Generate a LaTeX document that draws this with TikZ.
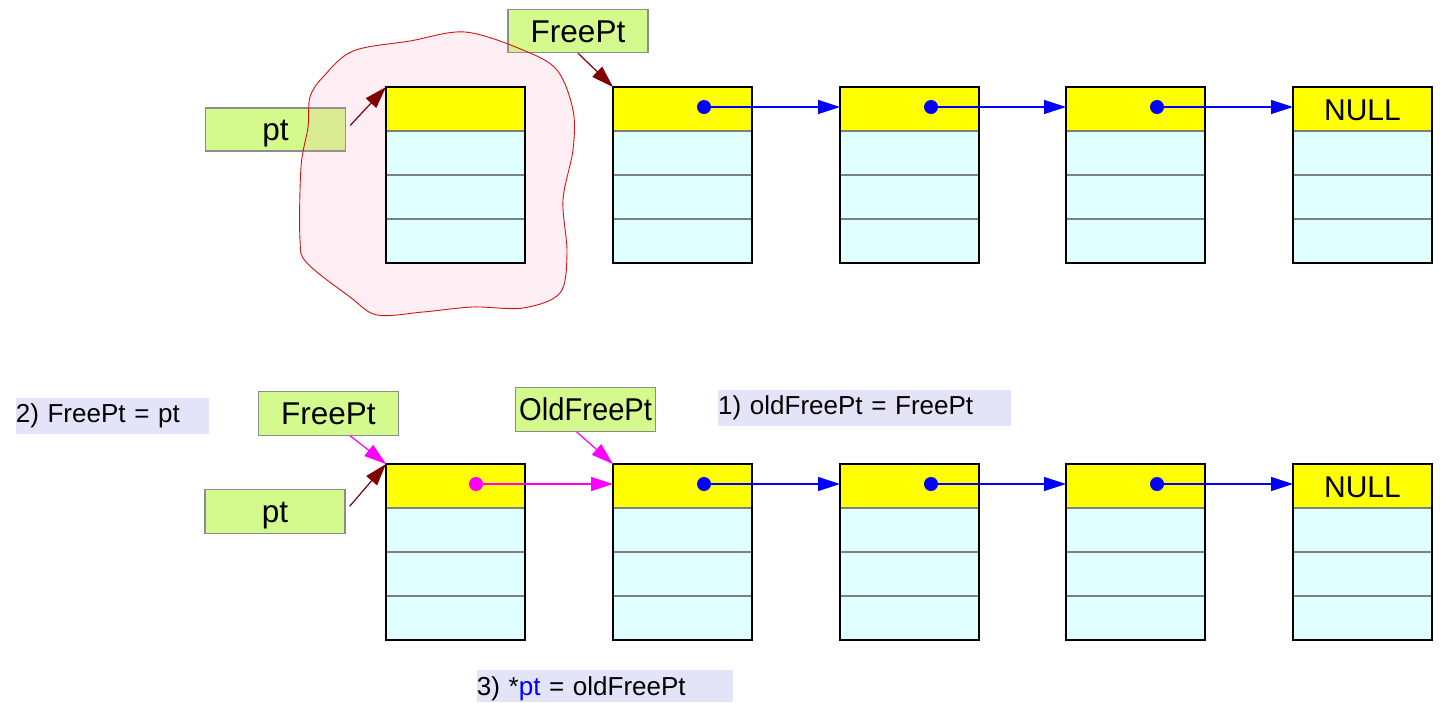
\documentclass[tikz,border=0pt]{standalone}
\usepackage{graphicx}
\usepackage{fontspec}
\setmainfont{Liberation Sans}
\usetikzlibrary{arrows.meta}
\definecolor{lblgreen}{RGB}{212,250,142}
\definecolor{lblborder}{RGB}{140,140,140}
\definecolor{steplav}{RGB}{228,228,248}
\definecolor{cellcyan}{RGB}{224,255,255}
\definecolor{cellyellow}{RGB}{255,255,0}
\definecolor{ptrred}{RGB}{128,0,0}
\definecolor{ptrblue}{RGB}{0,0,255}
\definecolor{ptrmag}{RGB}{255,0,255}
\definecolor{blobred}{RGB}{210,20,20}
\definecolor{blobfill}{RGB}{255,150,180}
\begin{document}
\begin{tikzpicture}[x=1pt,y=-1pt,
  listbox/.style={draw=black, line width=2.6pt, fill=cellcyan, minimum width=139pt,
    minimum height=176pt, inner sep=0pt, outer sep=0pt, anchor=north west,
    path picture={
      \fill[cellyellow] (path picture bounding box.north west) rectangle
        ([yshift=-44pt]path picture bounding box.north east);
      \foreach \yy in {44,88,132}
        \draw[gray, line width=1.1pt] ([yshift=-\yy pt]path picture bounding box.north west)
          -- ([yshift=-\yy pt]path picture bounding box.north east);
    }},
  tagbox/.style={draw=lblborder, line width=1.3pt, fill=lblgreen, minimum width=140pt,
    minimum height=44pt, inner sep=0pt, text height=22.6pt, text depth=0pt,
    font=\fontsize{31.5}{38}\selectfont},
  stepnote/.style={fill=steplav, anchor=north west, inner sep=0pt, align=left,
    text height=19pt, text depth=6pt, font=\fontsize{26}{31}\selectfont},
  dotnode/.style={circle, minimum size=14pt, inner sep=0pt},
  blueptr/.style={draw=ptrblue, line width=1.2pt, -{Triangle[length=22pt,width=14pt]}},
  magptr/.style={draw=ptrmag, line width=1.2pt, -{Triangle[length=22pt,width=14pt]}},
  redptr/.style={draw=ptrred, line width=1.2pt, -{Triangle[length=22pt,width=14pt]}},
  nulltext/.style={font=\fontsize{30}{36}\selectfont, inner sep=0pt}
]
\path[use as bounding box] (0,0) rectangle (1442,702);

% top row pointer labels
\node[tagbox, minimum height=43pt] (ptA) at (275.5,129.5) {pt};
\node[tagbox, minimum height=43pt] (freeA) at (578,31) {FreePt};

% freed block blob
\draw[blobred, line width=0.9pt, fill=blobfill, fill opacity=0.15]
  plot[smooth cycle, tension=0.55] coordinates {
  (353,51) (410,41) (465,32) (523,50) (557,70) (573,110) (573,150) (563,200)
  (567,253) (560,293) (523,308) (473,307) (423,312) (377,315) (350,297)
  (307,263) (300,240) (301,167) (308,127) (310,97) (323,77)};

% top row list boxes
\node[listbox] (T1) at (386,87) {};
\node[listbox] (T2) at (613,87) {};
\node[listbox] (T3) at (840,87) {};
\node[listbox] (T4) at (1066,87) {};
\node[listbox] (T5) at (1293,87) {};
\node[nulltext] (nullT) at ([yshift=-23pt]T5.north) {NULL};

\node[dotnode, fill=ptrblue] (dT2) at ([xshift=91pt,yshift=-20pt]T2.north west) {};
\node[dotnode, fill=ptrblue] (dT3) at ([xshift=91pt,yshift=-20pt]T3.north west) {};
\node[dotnode, fill=ptrblue] (dT4) at ([xshift=91pt,yshift=-20pt]T4.north west) {};
\draw[blueptr] (dT2.center) -- (T3.west |- dT2.center);
\draw[blueptr] (dT3.center) -- (T4.west |- dT3.center);
\draw[blueptr] (dT4.center) -- (T5.west |- dT4.center);

\draw[redptr] ([xshift=4pt,yshift=4pt]ptA.east) -- (T1.north west);
\draw[redptr] (freeA.south) -- (T2.north west);

% bottom row labels
\node[stepnote, text width=193pt, minimum height=36pt] (s2) at (15.6,397.7) {2) FreePt = pt};
\node[stepnote, text width=293pt, minimum height=36pt] (s1) at (718,390) {1) oldFreePt = FreePt};
\node[stepnote, text width=256pt, minimum height=32pt, text depth=1pt] (s3) at (476.7,670) {3) *\textcolor{ptrblue}{pt} = oldFreePt};

\node[tagbox] (freeB) at (328.3,413.2) {FreePt};
\node[tagbox] (oldB) at (585.6,409.2) {\scalebox{0.925}[1]{OldFreePt}};
\node[tagbox] (ptB) at (275,511.3) {pt};

% bottom row list boxes
\node[listbox] (B1) at (386,464) {};
\node[listbox] (B2) at (613,464) {};
\node[listbox] (B3) at (840,464) {};
\node[listbox] (B4) at (1066,464) {};
\node[listbox] (B5) at (1293,464) {};
\node[nulltext] (nullB) at ([yshift=-23pt]B5.north) {NULL};

\node[dotnode, fill=ptrmag] (dB1) at ([xshift=90pt,yshift=-20pt]B1.north west) {};
\node[dotnode, fill=ptrblue] (dB2) at ([xshift=91pt,yshift=-20pt]B2.north west) {};
\node[dotnode, fill=ptrblue] (dB3) at ([xshift=91pt,yshift=-20pt]B3.north west) {};
\node[dotnode, fill=ptrblue] (dB4) at ([xshift=91pt,yshift=-20pt]B4.north west) {};
\draw[magptr] (dB1.center) -- (B2.west |- dB1.center);
\draw[blueptr] (dB2.center) -- (B3.west |- dB2.center);
\draw[blueptr] (dB3.center) -- (B4.west |- dB3.center);
\draw[blueptr] (dB4.center) -- (B5.west |- dB4.center);

\draw[magptr] ([xshift=22pt]freeB.south) -- (B1.north west);
\draw[redptr] ([xshift=4pt,yshift=5pt]ptB.east) -- (B1.north west);
\draw[magptr] ([xshift=-9pt]oldB.south) -- (B2.north west);
\end{tikzpicture}
\end{document}
